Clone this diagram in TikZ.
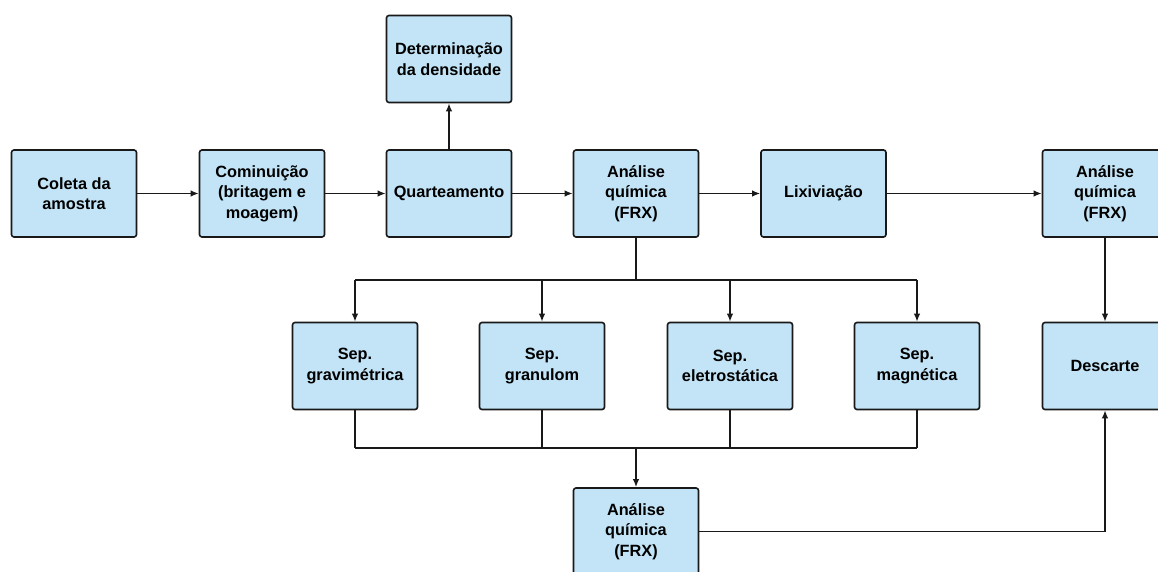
\documentclass[tikz,border=0pt]{standalone}
\usepackage{fontspec}
\setmainfont{Liberation Sans}
\usetikzlibrary{arrows.meta}
\definecolor{boxblue}{RGB}{194,228,246}
\begin{document}
\begin{tikzpicture}[x=1pt,y=-1pt,
  stepbox/.style={draw=black!90, line width=1.6pt, rounded corners=2.5pt, fill=boxblue,
    minimum width=125pt, minimum height=87pt, align=center,
    font=\fontsize{16.3}{20.5}\selectfont\bfseries, inner sep=0pt},
  link/.style={line width=1.5pt, draw=black!90},
  arr/.style={link, -{Latex[length=8pt,width=6.5pt]}}]
\useasboundingbox (0,0) rectangle (1158,572);
\fill[white] (0,0) rectangle (1158,572);
\clip (0,0) rectangle (1158,572);
\node[stepbox] (coleta) at (74,193.5) {Coleta da\\amostra};
\node[stepbox] (comin) at (262,193.5) {Cominuição\\(britagem e\\moagem)};
\node[stepbox] (quart) at (449,193.5) {Quarteamento};
\node[stepbox] (dens) at (449,59) {Determinação\\da densidade};
\node[stepbox] (ana1) at (636,193.5) {Análise\\química\\(FRX)};
\node[stepbox] (lix) at (823.5,193.5) {Lixiviação};
\node[stepbox] (ana2) at (1105,193.5) {Análise\\química\\(FRX)};
\node[stepbox] (sep1) at (355,366) {Sep.\\gravimétrica};
\node[stepbox] (sep2) at (542,366) {Sep.\\granulom};
\node[stepbox] (sep3) at (730,366) {Sep.\\eletrostática};
\node[stepbox] (sep4) at (917,366) {Sep.\\magnética};
\node[stepbox] (desc) at (1105,366) {Descarte};
\node[stepbox] (ana3) at (636,531.5) {Análise\\química\\(FRX)};
\coordinate (busA) at (636,280);
\coordinate (busB) at (636,448);
\draw[arr] (coleta) -- (comin);
\draw[arr] (comin) -- (quart);
\draw[arr] (quart) -- (ana1);
\draw[arr] (quart.north) -- (dens.south);
\draw[arr] (ana1) -- (lix);
\draw[arr] (lix) -- (ana2);
\draw[arr] (ana2.south) -- (desc.north);
\draw[link] (ana1.south) -- (busA);
\draw[link] (sep1.north |- busA) -- (sep4.north |- busA);
\foreach \s in {sep1,sep2,sep3,sep4}{
  \draw[arr] (\s.north |- busA) -- (\s.north);
  \draw[link] (\s.south) -- (\s.south |- busB);
}
\draw[link] (sep1.south |- busB) -- (sep4.south |- busB);
\draw[arr] (busB) -- (ana3.north);
\draw[arr] (ana3.east) -| (desc.south);
\end{tikzpicture}
\end{document}
